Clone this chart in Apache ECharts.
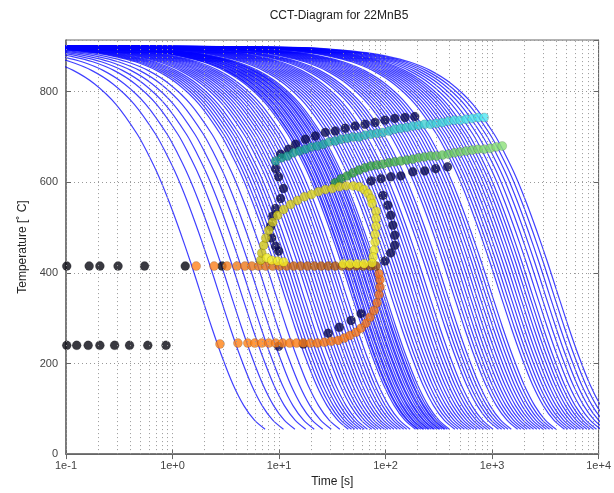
<!DOCTYPE html>
<html>
<head>
    <meta charset="UTF-8"/>
    <script src="https://cdn.jsdelivr.net/npm/echarts@6/dist/echarts.min.js"></script>
    <title>CCT-Diagram</title>
    <style>
        body { margin: 0; background: #fff; }
        #main { width: 614px; height: 493px; }
    </style>
</head>
<body>
<div id="main"></div>
<script type="text/javascript">
    // cooling curves: time [s] where each curve reaches the bottom (~55 C)
    var curveEndTimes = [7.4, 11.0, 14.1, 17.8, 21.4, 25.7, 30.9, 37.2, 44.7,
        47.9, 51.3, 55, 58.9, 63.1, 67.6,
        74.1, 79.4, 85.1, 91.2, 97.7, 105, 112, 120, 129, 138, 148, 158, 170,
        191, 200, 204, 214, 224, 229, 240, 251, 257, 269, 282, 288, 302, 316, 324, 339, 355, 363, 380, 398,
        447, 479, 513, 550, 589, 631, 676, 724, 776, 832, 891, 955, 1023,
        1148, 1230, 1318, 1413, 1514,
        1738, 1862, 1995, 2138, 2291, 2455, 2630, 2818, 3020, 3236, 3467, 3715, 3981,
        4786, 5129, 5495, 5888, 6310, 6761, 7244, 7762, 8318, 8913,
        9550, 10470, 11480, 12590, 13800, 15140, 16600];
    // shape of one cooling curve: time relative to its end, temperature
    var profileRelTime = [1e-5, 1e-4, 3.16e-4, 0.001, 0.00158, 0.00251, 0.00398, 0.00631, 0.01, 0.0158,
        0.0251, 0.0398, 0.0631, 0.0794, 0.1, 0.126, 0.158, 0.2, 0.251, 0.316, 0.398, 0.501, 0.631, 0.794, 1];
    var profileTemp = [900, 900, 899, 897, 895, 891, 886, 878, 866, 847,
        817, 772, 706, 663, 614, 556, 493, 423, 351, 279, 212, 153, 107, 75, 55];

    // transformation start points
    var blackTime = [0.1016, 0.165, 0.208, 0.308, 0.546, 1.316, 2.915,
        0.1016, 0.126, 0.1615, 0.208, 0.286, 0.395, 0.586, 0.869];
    var blackTemp = [415, 415, 415, 415, 415, 415, 415,
        240, 240, 240, 240, 240, 240, 240, 240];

    var navyTime = [10.35, 12.3, 14.3, 17.7, 21.9, 27.2, 33.7, 41.8, 51.8, 64.2, 79.7, 98.7, 122, 152, 188,
        9.29, 9.91, 11.0, 10.35, 9.29, 8.72, 8.34, 8.53, 9.29, 9.91,
        73.1, 90.6, 112, 139, 180, 233, 295, 382,
        94.6, 105, 112, 117, 122, 122, 112, 98.7,
        58.9, 47.5, 36.8, 29.0, 16.9, 9.91];
    var navyTemp = [662, 673, 684, 695, 702, 710, 713, 719, 724, 728, 732, 737, 741, 743, 745,
        630, 612, 586, 564, 542, 525, 503, 477, 459, 448,
        603, 608, 612, 614, 623, 625, 630, 634,
        571, 549, 527, 505, 483, 461, 444, 426,
        310, 295, 280, 267, 243, 238];

    var cyanTime = [9.29, 10.57, 12.02, 13.67, 15.55, 17.69, 20.12, 22.88, 26.03, 29.60, 33.67, 38.30,
        43.56, 49.55, 56.35, 64.10, 72.9, 82.9, 94.3, 107.3, 122.0, 138.8, 157.9, 179.6,
        204.2, 232.3, 264.2, 300.5, 341.8, 388.8, 442.2, 503.0, 572.1, 650.7, 740.1, 841.8];
    var cyanTemp = [647, 654, 658, 665, 669, 673, 678, 680, 684, 689, 691, 695,
        697, 700, 700, 704, 706, 708, 710, 713, 717, 719, 721, 724,
        726, 728, 728, 730, 732, 735, 737, 737, 739, 741, 743, 743];

    var greenTime = [33.67, 38.30, 43.56, 49.55, 56.35, 64.10, 72.9, 82.9, 94.3, 107.3, 122.0, 138.8,
        157.9, 179.6, 204.2, 232.3, 264.2, 300.5, 341.8, 388.8, 442.2, 503.0, 572.1, 650.7,
        740.1, 841.8, 962, 1094, 1245];
    var greenTemp = [599, 608, 614, 621, 627, 632, 636, 638, 640, 643, 645, 647,
        649, 651, 654, 656, 658, 658, 660, 662, 665, 667, 669, 671,
        673, 673, 675, 678, 680];

    var yellowTime = [6.73, 6.88, 7.18, 7.50, 8.00, 8.72, 9.70, 11.04, 12.83, 14.92, 17.34, 20.15,
        23.42, 27.23, 31.6, 36.8, 42.7, 49.7, 56.5, 62.9, 68.5, 73.1, 74.7,
        81.4, 81.4, 81.4, 79.7, 79.7, 78.0, 76.3, 74.7,
        7.66, 8.53, 9.70, 11.04,
        40.1, 46.5, 54.1, 62.9];
    var yellowTemp = [428, 444, 461, 477, 494, 512, 527, 540, 551, 560, 568, 573,
        579, 584, 586, 590, 592, 592, 590, 584, 575, 564, 553,
        536, 520, 503, 485, 468, 450, 435, 422,
        433, 428, 426, 424,
        420, 420, 420, 420];

    var orangeUpperTime = [1.667, 2.455, 3.245, 4.025, 4.78, 5.55, 6.45, 7.50, 8.72, 10.13, 11.78, 13.69,
        15.9, 18.5, 21.5, 24.9, 29.0, 33.7, 39.2, 45.5, 52.9, 61.5, 71.5, 81.4];
    var orangeUpperTemp = [415, 415, 415, 415, 415, 415, 415, 415, 415, 415, 415, 415,
        415, 415, 415, 415, 415, 415, 415, 415, 415, 415, 415, 415];

    var orangeLowerTime = [2.79, 4.11, 5.09, 5.92, 6.88, 8.00, 9.29, 10.8, 12.6, 14.6, 16.9, 19.7, 22.9,
        26.6, 30.9, 35.9, 40.9, 46.5, 52.9, 58.9, 65.6, 71.5, 78.0, 83.2, 86.8, 88.7, 88.7, 86.8];
    var orangeLowerTemp = [243, 245, 245, 245, 245, 245, 245, 245, 245, 245, 245, 245, 245,
        247, 249, 251, 256, 262, 269, 278, 289, 302, 317, 334, 352, 369, 385, 398];

    var yTicks = [0, 200, 400, 600, 800];

    function mix(c1, c2, f) {
        var r = Math.round(c1[0] + (c2[0] - c1[0]) * f);
        var g = Math.round(c1[1] + (c2[1] - c1[1]) * f);
        var b = Math.round(c1[2] + (c2[2] - c1[2]) * f);
        return 'rgb(' + r + ',' + g + ',' + b + ')';
    }

    function dots(times, temps, c1, c2, size) {
        var n = times.length;
        return {
            type: 'scatter',
            symbolSize: size,
            silent: true,
            itemStyle: {borderColor: 'rgba(0,0,0,0.3)', borderWidth: 0.6},
            data: times.map(function (t, i) {
                return {
                    value: [t, temps[i]],
                    itemStyle: {color: mix(c1, c2, n > 1 ? i / (n - 1) : 0)}
                };
            })
        };
    }

    var series = [];

    // dotted log grid (1..9 per decade)
    var gridLines = [];
    for (var e = -1; e < 4; e++) {
        for (var m = 1; m < 10; m++) gridLines.push({xAxis: m * Math.pow(10, e)});
    }
    gridLines.push({xAxis: 10000});
    series.push({
        type: 'line', z: 1, silent: true, showSymbol: false,
        data: [[1, 0]], lineStyle: {opacity: 0},
        markLine: {
            silent: true, symbol: 'none', animation: false,
            label: {show: false},
            lineStyle: {type: [1, 3], color: '#999', width: 1},
            data: gridLines
        }
    });

    curveEndTimes.forEach(function (te) {
        series.push({
            type: 'line', z: 2, silent: true, showSymbol: false, smooth: 0.3,
            lineStyle: {color: 'rgba(0,0,255,0.75)', width: 1.2},
            data: profileRelTime.map(function (r, i) {
                return [te * r, profileTemp[i]];
            })
        });
    });

    var s;
    s = dots(blackTime, blackTemp, [8, 8, 16], [8, 8, 16], 9); s.z = 3; series.push(s);
    s = dots(navyTime, navyTemp, [10, 10, 80], [10, 10, 80], 9); s.z = 3; series.push(s);
    s = dots(cyanTime, cyanTemp, [26, 150, 140], [80, 230, 240], 9); s.z = 4; series.push(s);
    s = dots(greenTime, greenTemp, [40, 150, 60], [140, 225, 120], 9); s.z = 4; series.push(s);
    s = dots(orangeLowerTime, orangeLowerTemp, [255, 130, 20], [240, 110, 20], 9); s.z = 4; series.push(s);
    s = dots(orangeUpperTime, orangeUpperTemp, [255, 130, 30], [150, 75, 10], 9); s.z = 4; series.push(s);
    s = dots(yellowTime, yellowTemp, [200, 190, 20], [250, 245, 40], 9); s.z = 5; series.push(s);

    var fontFam = 'Liberation Sans, Arial, sans-serif';
    var option = {
        animation: false,
        backgroundColor: '#fff',
        title: {
            text: 'CCT-Diagram for 22MnB5',
            left: 334, top: 5, textAlign: 'center',
            textStyle: {fontSize: 12, fontWeight: 'normal', color: '#222', fontFamily: fontFam}
        },
        grid: {left: 66, right: 12, top: 40, bottom: 35, show: true, borderColor: '#666', borderWidth: 1},
        xAxis: [{
            type: 'log', logBase: 10, min: 0.1, max: 10000,
            name: 'Time [s]', nameLocation: 'middle', nameGap: 21,
            nameTextStyle: {fontSize: 12, color: '#222', fontFamily: fontFam},
            axisLine: {lineStyle: {color: '#666', width: 1.5}},
            axisTick: {inside: true, length: 5, lineStyle: {color: '#666'}},
            axisLabel: {
                color: '#444', fontSize: 11, fontFamily: fontFam, margin: 6,
                formatter: function (v) {
                    var ex = Math.round(Math.log(v) / Math.LN10);
                    return '1e' + (ex < 0 ? '-' : '+') + Math.abs(ex);
                }
            },
            splitLine: {show: false}
        }, {
            type: 'log', logBase: 10, min: 0.1, max: 10000, position: 'top',
            axisLine: {lineStyle: {color: '#666'}},
            axisTick: {inside: true, length: 5, lineStyle: {color: '#666'}},
            axisLabel: {show: false}, splitLine: {show: false}
        }],
        yAxis: [{
            type: 'value', min: 0, max: 914, interval: 200,
            name: 'Temperature [˚ C]', nameLocation: 'middle', nameGap: 33, nameRotate: 90,
            nameTextStyle: {fontSize: 12, color: '#222', fontFamily: fontFam},
            axisLine: {show: true, lineStyle: {color: '#666', width: 1.5}},
            axisTick: {inside: true, length: 5, lineStyle: {color: '#666'}},
            axisLabel: {
                color: '#444', fontSize: 11, fontFamily: fontFam, margin: 8, showMaxLabel: false,
                formatter: function (v) { return yTicks.indexOf(v) >= 0 ? String(v) : ''; }
            },
            splitLine: {show: true, lineStyle: {type: [1, 3], color: '#999'}}
        }, {
            type: 'value', min: 0, max: 914, interval: 200, position: 'right',
            axisLine: {show: true, lineStyle: {color: '#666'}},
            axisTick: {inside: true, length: 5, lineStyle: {color: '#666'}},
            axisLabel: {show: false}, splitLine: {show: false}
        }],
        series: series
    };

    var myChart = echarts.init(document.getElementById('main'));
    myChart.setOption(option);
</script>
</body>
</html>
